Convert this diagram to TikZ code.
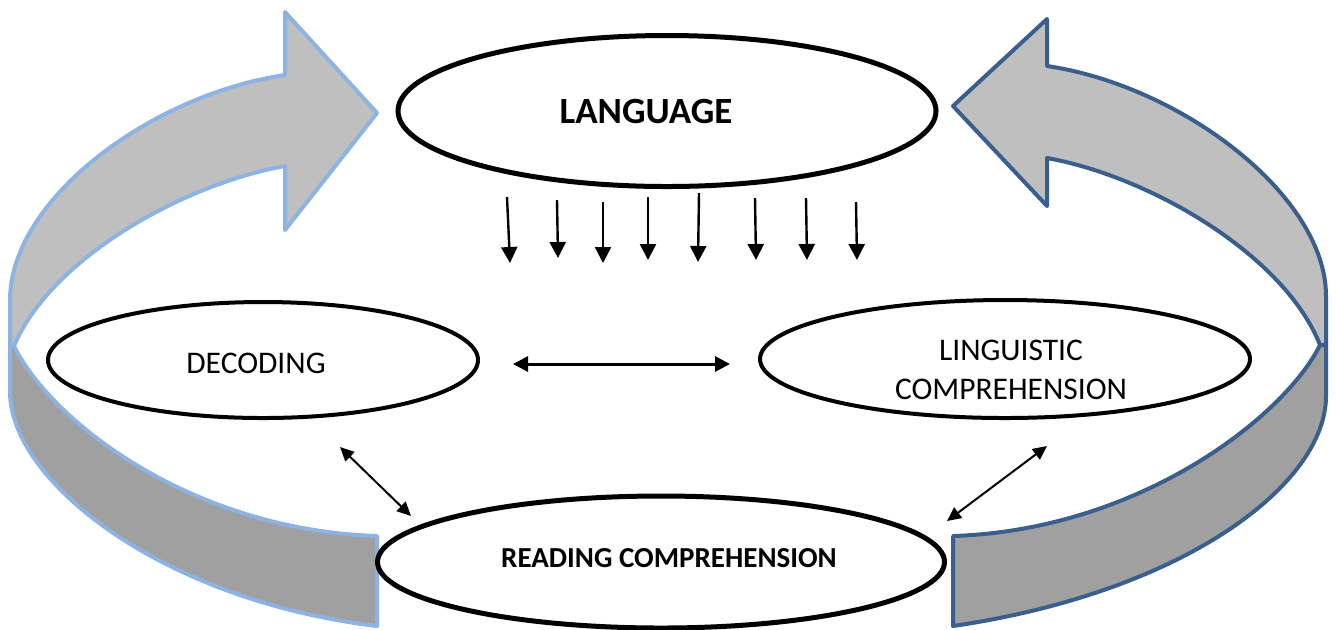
\documentclass[tikz,border=0pt]{standalone}
\usepackage{fontspec}
\setmainfont{Carlito}
\usetikzlibrary{arrows.meta,shapes.geometric}
\definecolor{lblue}{HTML}{8DB3E2}
\definecolor{dblue}{HTML}{3B5F8C}
\definecolor{topgray}{HTML}{BFBFBF}
\definecolor{bandgray}{HTML}{A0A0A0}
\tikzset{
  ribbonL/.style={draw=lblue, line width=2pt, line join=round},
  ribbonR/.style={draw=dblue, line width=2pt, line join=round},
  oval/.style={ellipse, draw=black, fill=white, line width=2pt, inner sep=0pt},
  regtext/.style={font=\fontsize{15.75pt}{19.5pt}\selectfont, align=center, inner sep=0pt},
  downarrow/.style={line width=1.2pt, -{Triangle[width=8pt,length=8pt]}},
  biarrow/.style={line width=1.5pt, {Triangle[width=7.5pt,length=7.5pt]}-{Triangle[width=7.5pt,length=7.5pt]}},
  diagarrow/.style={line width=1pt, {Triangle[width=6.5pt,length=7pt]}-{Triangle[width=6.5pt,length=7pt]}}
}
\begin{document}
\begin{tikzpicture}[x=0.5pt,y=-0.5pt]
\useasboundingbox (0,0) rectangle (1336,629);
% left ribbon
\filldraw[ribbonL, fill=bandgray] (14,346) .. controls (50,420) and (190,530) .. (377,536) -- (377,626) .. controls (160,600) and (10,480) .. (10,392) -- (10,346) -- cycle;
\filldraw[ribbonL, fill=topgray] (285,75) .. controls (150,95) and (10,200) .. (10,300) -- (10,346) -- (14,346) .. controls (50,260) and (180,185) .. (285,166) -- (285,230) -- (377,113) -- (285,12) -- cycle;
% right ribbon
\filldraw[ribbonR, fill=bandgray] (1320,345) .. controls (1285,416) and (1140,530) .. (953,536) -- (953,626) .. controls (1185,592) and (1326,484) .. (1326,396) -- (1326,345) -- cycle;
\filldraw[ribbonR, fill=topgray] (1047,66) .. controls (1182,86) and (1326,196) .. (1326,296) -- (1326,345) -- (1320,345) .. controls (1285,256) and (1152,177) .. (1047,158) -- (1047,206) -- (953,106) -- (1047,19) -- cycle;
% ellipses
\node[oval, line width=2.5pt, minimum width=269pt, minimum height=75.5pt] (lang) at (667,111) {};
\node[font=\fontsize{18.5pt}{22pt}\selectfont\bfseries, inner sep=0pt] (langt) at (646,111) {LANGUAGE};
\node[oval, minimum width=215pt, minimum height=58pt] (dec) at (263,360) {};
\node[regtext] (dect) at (256,363) {DECODING};
\node[oval, minimum width=245pt, minimum height=59pt] (ling) at (1005,359) {};
\node[regtext] (lingt) at (1011,370) {LINGUISTIC\\COMPREHENSION};
\node[oval, line width=2.5pt, minimum width=283.5pt, minimum height=66pt] (read) at (661,562) {};
\node[font=\fontsize{14.5pt}{17pt}\selectfont\bfseries, inner sep=0pt] (readt) at (669,558) {READING COMPREHENSION};
% down arrows
\foreach \i/\xa/\ya/\xb/\yb in {1/507/197/510/263, 2/557/200/558/258, 3/603/202/603/263, 4/648/197/648/260, 5/699/193/698/262, 6/755/198/756/260, 7/806/198/807/260, 8/856/202/857/260}{
  \coordinate (s\i) at (\xa,\ya);
  \coordinate (e\i) at (\xb,\yb);
  \draw[downarrow] (s\i) -- (e\i);
}
% double arrows
\coordinate (hA) at (513,364);
\coordinate (hB) at (730,364);
\draw[biarrow] (hA) -- (hB);
\coordinate (dA) at (340,447);
\coordinate (dB) at (411,516);
\draw[diagarrow] (dA) -- (dB);
\coordinate (lA) at (1047,446);
\coordinate (lB) at (947,521);
\draw[diagarrow] (lA) -- (lB);
\end{tikzpicture}
\end{document}
